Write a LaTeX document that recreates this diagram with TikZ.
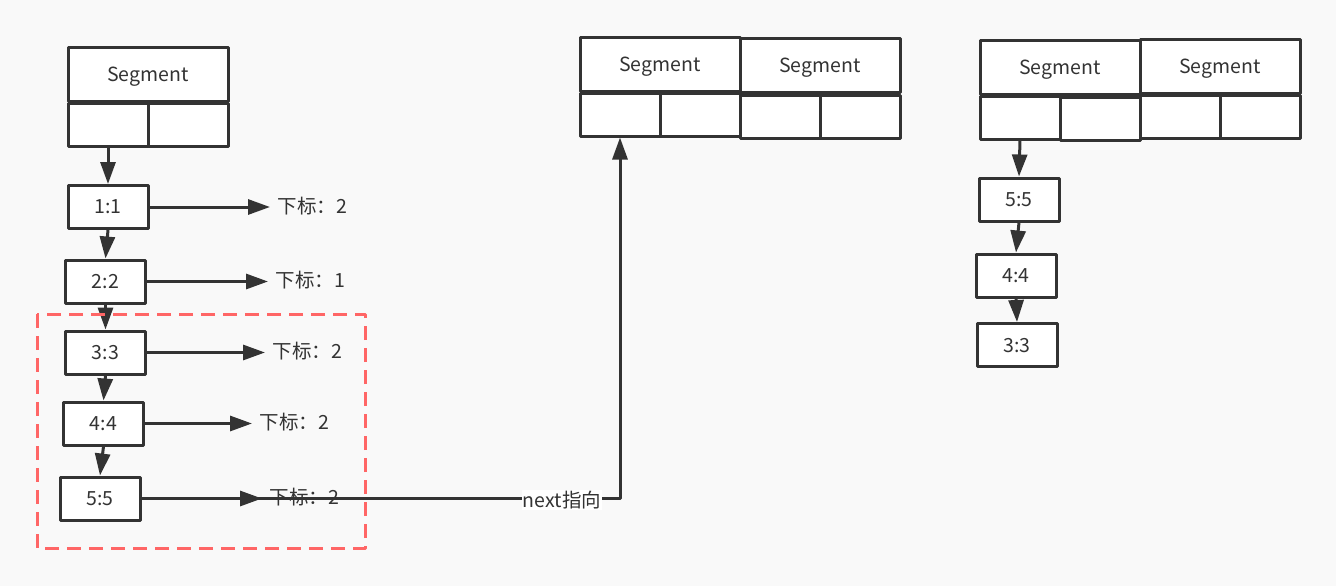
\documentclass[tikz,border=0pt]{standalone}
\usepackage{fontspec}
\setmainfont{Noto Sans CJK SC}
\usetikzlibrary{arrows.meta}
\definecolor{ink}{HTML}{333333}
\definecolor{redline}{HTML}{FF6666}
\definecolor{paper}{HTML}{F9F9F9}
\begin{document}
\begin{tikzpicture}[x=1pt,y=-1pt,line join=round,>={Triangle[length=22pt,width=15pt]},line width=3pt,color=ink]
	\tikzset{every node/.style={font=\fontsize{19.5}{22}\selectfont,text=ink},
		cell/.style={draw=ink,fill=white,minimum width=80pt,minimum height=43pt,inner sep=0pt,text depth=0pt,yshift=-1pt},
		head/.style={cell,minimum width=160pt,minimum height=53pt},
		idx/.style={anchor=west,inner sep=6pt}}
	\fill[paper] (0,0) rectangle (1336,586);
	\useasboundingbox (0,0) rectangle (1336,586);
	% left segment and its list
	\node[head] (segA) at (148,73.5) {Segment};
	\node[cell] (segAl) at (108,123.5) {};
	\node[cell] (segAr) at (188,123.5) {};
	\foreach \i/\x/\y/\tx/\v in {1/108/206/270/2,2/105.5/280.5/268/1,3/105.5/351.5/265/2,4/103.5/422.5/252/2,5/100/497.5/262/2}{
		\node[cell] (n\i) at (\x,\y) {\i:\i};
		\node[idx] (t\i) at (\tx,\y) {下标：\v};
		\draw[->] (n\i.east) -- (n\i.east -| t\i.west);
	}
	\draw[->] (segAl.south) -- (n1.north);
	\foreach \a/\b in {1/2,2/3,3/4,4/5}
	\draw[->] (n\a.south) -- (n\b.north);
	\draw[redline,dash pattern=on 14pt off 8pt] (37,314) rectangle (365,548);
	% middle segments
	\node[head] (mA) at (660,63.5) {Segment};
	\node[head] (mB) at (820,64.5) {Segment};
	\foreach \c/\x/\y in {mAl/620/113.5,mAr/700/113.5,mBl/780/115.5,mBr/860/115.5}
	\node[cell] (\c) at (\x,\y) {};
	\draw[->] (n5.east) -- (mAl.south |- n5.east) -- (mAl.south);
	\node[fill=white,inner sep=1pt] (nxt) at (562,500) {next指向};
	% right segments and their list
	\node[head] (rA) at (1060,66.5) {Segment};
	\node[head] (rB) at (1220,65.5) {Segment};
	\foreach \c/\x/\y in {rAl/1020/116.5,rAr/1100/117.5,rBl/1180/116,rBr/1260/116}
	\node[cell] (\c) at (\x,\y) {};
	\foreach \i/\x/\y in {5/1019/198.5,4/1016/274.5,3/1017/344}
	\node[cell] (r\i) at (\x,\y) {\i:\i};
	\draw[->] (rAl.south) -- (r5.north);
	\draw[->] (r5.south) -- (r4.north);
	\draw[->] (r4.south) -- (r3.north);
\end{tikzpicture}
\end{document}
